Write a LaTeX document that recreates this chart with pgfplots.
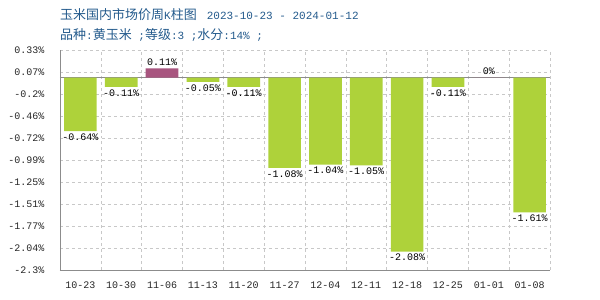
\documentclass[border=0pt]{standalone}
\usepackage{fontspec}
\setmainfont{Liberation Mono}
\newfontfamily\cjk{Noto Sans CJK SC}
\usepackage{pgfplots}
\pgfplotsset{compat=1.18}
\definecolor{bargreen}{HTML}{AED23A}
\definecolor{barred}{HTML}{A8557F}
\definecolor{titleblue}{HTML}{235A8C}
\definecolor{gridc}{HTML}{C8C8C8}
\definecolor{axisc}{HTML}{8C8C8C}
\newcommand{\fs}{\fontsize{10bp}{12bp}\selectfont}
\newcommand{\ft}{\fontsize{11bp}{13bp}\selectfont}
\newcommand{\fc}{\fontsize{13bp}{15bp}\selectfont}
\begin{document}
\begin{tikzpicture}
\path (-60bp,-30bp) rectangle (540bp,270bp);
\begin{axis}[
  at={(0,0)}, anchor=south west,
  scale only axis, width=490bp, height=220bp,
  xmin=-0.5, xmax=11.5, ymin=-2.3, ymax=0.33,
  xtick={0,...,11},
  xticklabels={10-23,10-30,11-06,11-13,11-20,11-27,12-04,12-11,12-18,12-25,01-01,01-08},
  minor xtick={0.5,1.5,...,11.5},
  ytick={0.33,0.067,-0.196,-0.459,-0.722,-0.985,-1.248,-1.511,-1.774,-2.037,-2.3},
  yticklabels={0.33\%,0.07\%,-0.2\%,-0.46\%,-0.72\%,-0.99\%,-1.25\%,-1.51\%,-1.77\%,-2.04\%,-2.3\%},
  ymajorgrids, xminorgrids,
  major grid style={gridc, dashed, line width=0.6pt},
  minor grid style={gridc, dashed, line width=0.6pt},
  axis x line*=bottom, axis y line*=left,
  axis line style={-, draw=axisc, line width=0.9pt},
  major tick length=0pt, minor tick length=0pt,
  tick style={draw=none},
  ticklabel style={font=\fs, text=black!85},
  /pgf/number format/assume math mode=true,
  xticklabel style={yshift=-8bp},
  yticklabel style={xshift=-12bp},
  clip=false,
]
\addplot[axisc, line width=0.9pt, forget plot] coordinates {(-0.5,0) (11.5,0)};
\addplot[ybar, bar width=0.8, bar shift=0pt, fill=bargreen, draw=none,
  nodes near coords={\pgfmathprintnumber[fixed,precision=2]{\pgfplotspointmeta}\%},
  nodes near coords align={vertical},
  every node near coord/.append style={font=\fs, text=black, inner sep=2.5bp}]
  coordinates {(0,-0.64) (1,-0.11) (3,-0.05) (4,-0.11) (5,-1.08) (6,-1.04) (7,-1.05) (8,-2.08) (9,-0.11) (11,-1.61)};
\addplot[ybar, bar width=0.8, bar shift=0pt, fill=barred, draw=none,
  nodes near coords={\pgfmathprintnumber[fixed,precision=2]{\pgfplotspointmeta}\%},
  nodes near coords align={vertical},
  every node near coord/.append style={font=\fs, text=black, inner sep=2.5bp}]
  coordinates {(2,0.11) (10,0)};
\end{axis}
\node[anchor=west, text=titleblue, inner sep=0] at (0bp,255bp)
  {\ft{\cjk\fc 玉米国内市场价周}K{\cjk\fc 柱图}\hspace{10bp}2023-10-23 - 2024-01-12};
\node[anchor=west, text=titleblue, inner sep=0] at (0bp,235bp)
  {\ft{\cjk\fc 品种}:{\cjk\fc 黄玉米} ;{\cjk\fc 等级}:3 ;{\cjk\fc 水分}:14\% ;};
\end{tikzpicture}
\end{document}
